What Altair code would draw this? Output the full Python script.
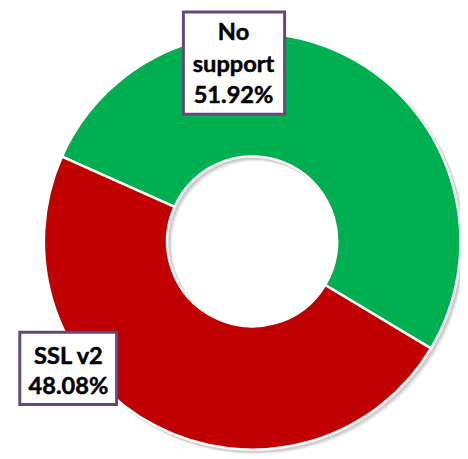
import math
import altair as alt
import pandas as pd

categories = ["No support", "SSL v2"]
values = [51.92, 48.08]
colors = ["#00B050", "#C00000"]
label_lines = [["No", "support", "51.92%"], ["SSL v2", "48.08%"]]

df = pd.DataFrame({"category": categories, "value": values, "order": [0, 1]})

W, H = 460, 451
CX, CY = 248.5, 233.5
R_OUT, R_IN = 212, 86.5
start = math.radians(294.0)
theta_range = [start - 2 * math.pi, start]

# shadow rings (simulated blur)
shadow_layers = []
for off, op in [(4, 0.10), (3, 0.15), (2, 0.2)]:
    shadow_layers.append(
        alt.Chart(df).mark_arc(color="#7f7f7f", opacity=op, theta=0, theta2=2 * math.pi,
                               radius=R_OUT + 1, radius2=R_IN - 1)
        .encode(x=alt.value(CX + off), y=alt.value(CY + off))
        .transform_filter(alt.datum.order == 0)
    )

donut = alt.Chart(df).mark_arc(radius=R_OUT, radius2=R_IN, stroke="white", strokeWidth=2.5).encode(
    theta=alt.Theta("value:Q", stack=True, scale=alt.Scale(range=theta_range)),
    order=alt.Order("order:Q"),
    color=alt.Color("category:N", scale=alt.Scale(domain=categories, range=colors), legend=None),
    x=alt.value(CX),
    y=alt.value(CY),
)

# label boxes (annotation placement)
boxes = pd.DataFrame({
    "category": categories,
    "x1": [178.5, 12], "x2": [281.5, 110.5],
    "y1": [0, 326], "y2": [104, 399.5],
})
box_layer = alt.Chart(boxes).mark_rect(fill="white", stroke="#604A7B", strokeWidth=3).encode(
    x=alt.X("x1:Q", scale=None), x2="x2:Q",
    y=alt.Y("y1:Q", scale=None), y2="y2:Q",
)

text_rows = []
centers = [(229.5, [29, 61, 92.5]), (61.5, [358.5, 389])]
for lines, (cx, ys) in zip(label_lines, centers):
    for t, yy in zip(lines, ys):
        text_rows.append({"t": t, "x": cx, "y": yy})
text_df = pd.DataFrame(text_rows)
text_layer = alt.Chart(text_df).mark_text(
    font="Lato", fontWeight="bold", fontSize=24, color="black", baseline="alphabetic",
    stroke="black", strokeWidth=0.5
).encode(
    x=alt.X("x:Q", scale=None), y=alt.Y("y:Q", scale=None), text="t:N"
)

chart = alt.layer(
    *shadow_layers, donut, box_layer, text_layer
).properties(
    width=W, height=H, padding=0, autosize=alt.AutoSizeParams(type="none")
).configure_view(stroke=None)

chart.save("out.html", embed_options={"renderer": "svg", "actions": False})
